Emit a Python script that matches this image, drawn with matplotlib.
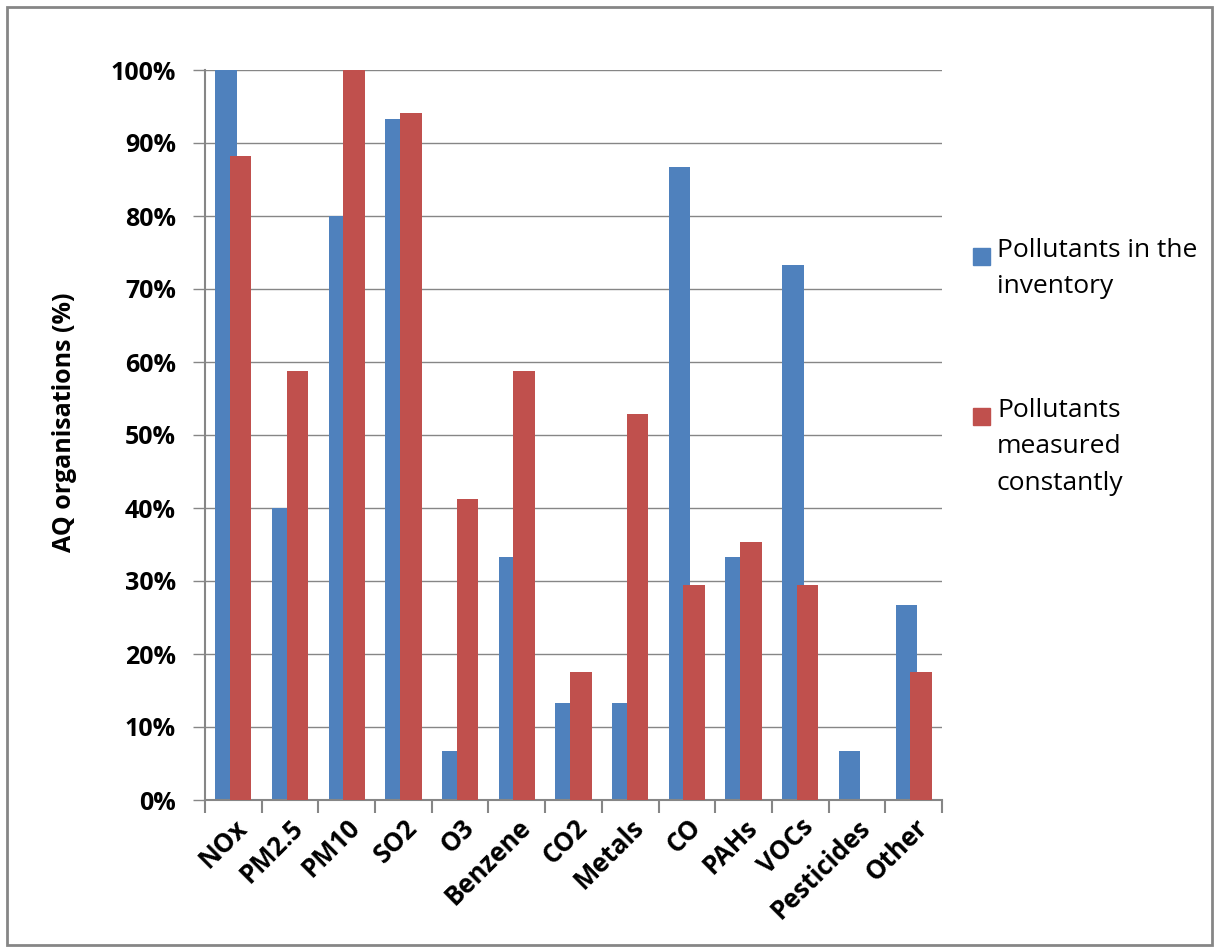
import numpy as np
import matplotlib.pyplot as plt
from matplotlib.patches import Rectangle
from matplotlib.ticker import PercentFormatter

pollutants = ['NOx', 'PM2.5', 'PM10', 'SO2', 'O3', 'Benzene', 'CO2', 'Metals',
              'CO', 'PAHs', 'VOCs', 'Pesticides', 'Other']
inventory = [100, 40, 80, 93.3, 6.7, 33.3, 13.3, 13.3, 86.7, 33.3, 73.3, 6.7, 26.7]
measured = [88.2, 58.8, 100, 94.1, 41.2, 58.8, 17.6, 52.9, 29.4, 35.3, 29.4, 0, 17.6]
series_names = ['Pollutants in the\ninventory', 'Pollutants\nmeasured\nconstantly']

c_blue = '#4f81bd'
c_red = '#c0504d'
c_grid = '#868686'

plt.rcParams['font.family'] = ['Open Sans', 'DejaVu Sans']

fig = plt.figure(figsize=(12.14, 9.52), dpi=100)
ax = fig.add_axes([205/1214, 152/952, 737/1214, 730/952])

x = np.arange(len(pollutants))
w = 0.38
ax.bar(x - 0.13, inventory, w, color=c_blue, zorder=2)
ax.bar(x + 0.13, measured, w, color=c_red, zorder=3)

ax.set_xlim(-0.5, len(pollutants) - 0.5)
ax.set_ylim(0, 100)
ax.set_yticks(np.arange(0, 101, 10))
ax.yaxis.set_major_formatter(PercentFormatter(decimals=0))
ax.grid(axis='y', color=c_grid, linewidth=1, zorder=0)
ax.set_axisbelow(True)

# category ticks sit on the boundaries
ax.set_xticks(np.arange(-0.5, len(pollutants), 1))
ax.set_xticklabels([])
ax.set_xticks(x, minor=True)
ax.set_xticklabels(pollutants, minor=True, rotation=45, ha='right',
                   rotation_mode='anchor', fontsize=18.5, fontweight='bold')
ax.tick_params(axis='x', which='minor', length=0, pad=10)
ax.tick_params(axis='x', which='major', length=9, width=1.5, color=c_grid)
ax.tick_params(axis='y', length=9, width=1, color=c_grid,
               labelsize=18, pad=12)
for lab in ax.get_yticklabels():
    lab.set_fontweight('bold')

for s in ['top', 'right']:
    ax.spines[s].set_visible(False)
for s in ['left', 'bottom']:
    ax.spines[s].set_color(c_grid)
    ax.spines[s].set_linewidth(1.5)

ax.set_ylabel('AQ organisations (%)', fontsize=18, fontweight='bold')
ax.yaxis.set_label_coords(-0.174, 0.517)

# legend drawn by hand so the square sits on the first line
for col, name, ytop, sq in zip([c_blue, c_red], series_names, [238, 398], [248, 408]):
    fig.patches.append(Rectangle((973/1214, 1 - (sq + 17)/952), 17/1214, 17/952,
                                 transform=fig.transFigure, color=col))
    fig.text(997/1214, 1 - ytop/952, name, fontsize=19, va='top', ha='left',
             linespacing=1.6)

# outer chart border
fig.patches.append(Rectangle((7/1214, 7/952), 1205/1214, 938/952, transform=fig.transFigure,
                             fill=False, edgecolor=c_grid, linewidth=2))

fig.savefig('out.png', dpi=100)
